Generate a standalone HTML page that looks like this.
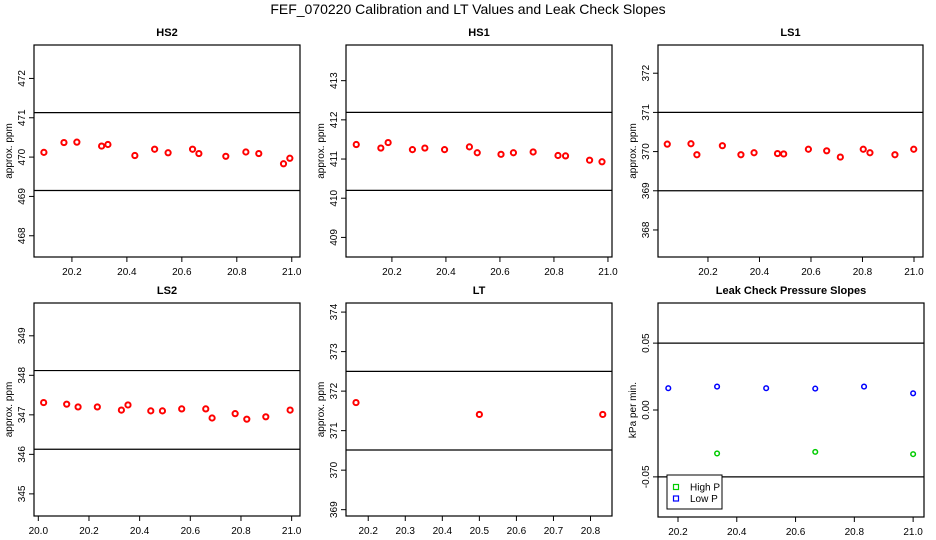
<!DOCTYPE html>
<html><head><meta charset="utf-8"><style>
html,body{margin:0;padding:0;background:#fff;}
svg{display:block;font-family:"Liberation Sans",Arial,sans-serif;}
</style></head><body>
<svg id="chart" width="936" height="540" viewBox="0 0 936 540" xmlns="http://www.w3.org/2000/svg">
<rect width="936" height="540" fill="#fff"/>
<text x="468" y="14" text-anchor="middle" font-size="14">FEF_070220  Calibration and LT Values and Leak Check Slopes</text>
</svg>
<script>
// HS2
const hs2X = [20.098,20.171,20.218,20.308,20.331,20.429,20.501,20.550,20.639,20.662,20.760,20.833,20.880,20.970,20.993];
const hs2Y = [470.12,470.37,470.38,470.28,470.32,470.04,470.20,470.11,470.20,470.09,470.02,470.13,470.09,469.83,469.97];
const hs2Limits = [471.13,469.15];
const hs2YTicks = [468,469,470,471,472];
// HS1
const hs1X = [20.068,20.159,20.186,20.276,20.322,20.395,20.487,20.516,20.604,20.650,20.723,20.815,20.843,20.932,20.978];
const hs1Y = [411.37,411.28,411.42,411.24,411.28,411.24,411.31,411.16,411.12,411.16,411.18,411.09,411.08,410.97,410.93];
const hs1Limits = [412.19,410.2];
const hs1YTicks = [409,410,411,412,413];
// LS1
const ls1X = [20.042,20.134,20.157,20.256,20.328,20.379,20.470,20.494,20.590,20.661,20.714,20.803,20.829,20.926,20.999];
const ls1Y = [370.19,370.20,369.92,370.15,369.92,369.97,369.95,369.94,370.06,370.02,369.86,370.06,369.97,369.92,370.06];
const ls1Limits = [371.0,369.0];
const ls1YTicks = [368,369,370,371,372];
// LS2
const ls2X = [20.021,20.112,20.157,20.233,20.328,20.354,20.444,20.490,20.566,20.661,20.686,20.777,20.823,20.898,20.994];
const ls2Y = [347.31,347.27,347.20,347.20,347.12,347.25,347.10,347.10,347.15,347.15,346.92,347.03,346.89,346.95,347.12];
const ls2Limits = [348.12,346.13];
const ls2YTicks = [345,346,347,348,349];
// LT
const ltX = [20.167,20.5,20.833];
const ltY = [371.71,371.41,371.41];
const ltLimits = [372.5,370.51];
const ltYTicks = [369,370,371,372,373,374];
// Leak check
const lowPX = [20.167,20.333,20.5,20.667,20.833,21.0];
const lowPY = [0.0163,0.0175,0.0163,0.0160,0.0175,0.0125];
const highPX = [20.333,20.667,21.0];
const highPY = [-0.0325,-0.0313,-0.033];
const leakLimits = [0.05,-0.05];
const leakYTicks = [-0.05,0.00,0.05];
const leakYLabels = ["-0.05","0.00","0.05"];
const xTicks02 = [20.2,20.4,20.6,20.8,21.0];
const xTicksLS2 = [20.0,20.2,20.4,20.6,20.8,21.0];
const xTicksLT = [20.2,20.3,20.4,20.5,20.6,20.7,20.8];
const legendLabels = ["High P","Low P"];

const NS="http://www.w3.org/2000/svg";
const svg=document.getElementById('chart');
function mk(tag,attrs,parent){const e=document.createElementNS(NS,tag);for(const k in attrs)e.setAttribute(k,attrs[k]);(parent||svg).appendChild(e);return e;}

function panel(o){
  const g=mk('g',{});
  
  
  const sx=v=>o.L+(v-o.x0)/(o.x1-o.x0)*(o.R-o.L);
  const sy=v=>o.B-(v-o.y0)/(o.y1-o.y0)*(o.B-o.T);
  const t=mk('text',{x:(o.L+o.R)/2,y:o.T-9,'text-anchor':'middle','font-size':11,'font-weight':'bold'},g);
  t.textContent=o.title;
  
  
  const box=mk('rect',{x:o.L,y:o.T,width:o.R-o.L,height:o.B-o.T,fill:'none',stroke:'#000','stroke-width':1.2},g);
  
  
  o.limits.forEach(v=>{
    const l=mk('line',{x1:o.L,x2:o.R,y1:sy(v),y2:sy(v),stroke:'#000','stroke-width':1.2},g);
    
    
  });
  o.yt.forEach((v,i)=>{
    const y=sy(v);
    mk('line',{x1:o.L-5,x2:o.L,y1:y,y2:y,stroke:'#000'},g);
    const tx=mk('text',{x:0,y:0,'text-anchor':'middle','font-size':10,transform:`translate(${o.L-9},${y}) rotate(-90)`},g);
    tx.textContent=o.ytl?o.ytl[i]:String(v);
    
    
  });
  o.xt.forEach(v=>{
    const x=sx(v);
    mk('line',{x1:x,x2:x,y1:o.B,y2:o.B+5,stroke:'#000'},g);
    const tx=mk('text',{x:x,y:o.B+18,'text-anchor':'middle','font-size':10},g);
    tx.textContent=v.toFixed(1);
    
    
  });
  const yl=mk('text',{x:0,y:0,'text-anchor':'middle','font-size':10,transform:`translate(${o.L-22},${(o.T+o.B)/2}) rotate(-90)`},g);
  yl.textContent=o.ylab;
  
  
  o.series.forEach(s=>{
    s.x.forEach((xv,i)=>{
      const c=mk('circle',{cx:sx(xv),cy:sy(s.y[i]),r:s.r,fill:'none',stroke:s.c,'stroke-width':s.w},g);
      
      
    });
  });
  return g;
}
panel({name:'hs2',title:'HS2',L:34,R:300,T:45,B:257,x0:20.062,x1:21.03,y0:467.46,y1:472.85,limits:hs2Limits,yt:hs2YTicks,xt:xTicks02,ylab:'approx. ppm',series:[{x:hs2X,y:hs2Y,c:'#f00',r:2.6,w:2}]});
panel({name:'hs1',title:'HS1',L:346,R:612,T:45,B:257,x0:20.030,x1:21.015,y0:408.50,y1:413.91,limits:hs1Limits,yt:hs1YTicks,xt:xTicks02,ylab:'approx. ppm',series:[{x:hs1X,y:hs1Y,c:'#f00',r:2.6,w:2}]});
panel({name:'ls1',title:'LS1',L:658,R:923,T:45,B:257,x0:20.006,x1:21.035,y0:367.31,y1:372.72,limits:ls1Limits,yt:ls1YTicks,xt:xTicks02,ylab:'approx. ppm',series:[{x:ls1X,y:ls1Y,c:'#f00',r:2.6,w:2}]});
panel({name:'ls2',title:'LS2',L:34,R:300,T:303,B:516,x0:19.983,x1:21.033,y0:344.44,y1:349.83,limits:ls2Limits,yt:ls2YTicks,xt:xTicksLS2,ylab:'approx. ppm',series:[{x:ls2X,y:ls2Y,c:'#f00',r:2.6,w:2}]});
panel({name:'lt',title:'LT',L:346,R:612,T:303,B:516,x0:20.14,x1:20.858,y0:368.84,y1:374.23,limits:ltLimits,yt:ltYTicks,xt:xTicksLT,ylab:'approx. ppm',series:[{x:ltX,y:ltY,c:'#f00',r:2.6,w:2}]});
panel({name:'leak',title:'Leak Check Pressure Slopes',L:658,R:924,T:303,B:517,x0:20.132,x1:21.037,y0:-0.080,y1:0.080,limits:leakLimits,yt:leakYTicks,ytl:leakYLabels,xt:xTicks02,ylab:'kPa per min.',series:[{x:lowPX,y:lowPY,c:'#00f',r:2.3,w:1.5},{x:highPX,y:highPY,c:'#0c0',r:2.3,w:1.5}]});
const lg=mk('g',{});


mk('rect',{x:667,y:475,width:55,height:34,fill:'#fff',stroke:'#000','stroke-width':1},lg);
const lcol=['#0c0','#00f'];
legendLabels.forEach((lab,i)=>{
  const y=487+i*11.5;
  const r=mk('rect',{x:673.5,y:y-2.5,width:5,height:5,fill:'none',stroke:lcol[i],'stroke-width':1.2},lg);
  
  
  const t=mk('text',{x:690,y:y+3.5,'font-size':10},lg);
  t.textContent=lab;
  
  
});
</script>
</body></html>
